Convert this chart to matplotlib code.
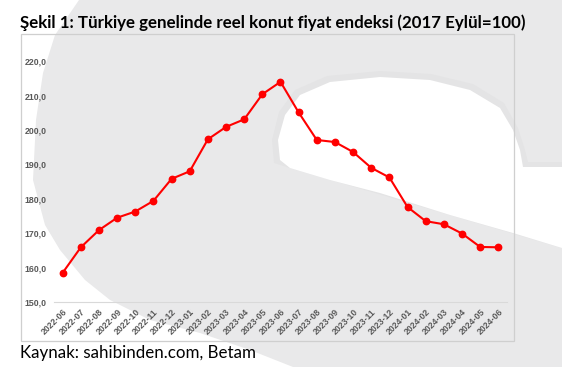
import matplotlib
matplotlib.use('Agg')
import matplotlib.pyplot as plt
from matplotlib.patches import Polygon, Rectangle

months = ['2022-06', '2022-07', '2022-08', '2022-09', '2022-10', '2022-11', '2022-12',
          '2023-01', '2023-02', '2023-03', '2023-04', '2023-05', '2023-06', '2023-07',
          '2023-08', '2023-09', '2023-10', '2023-11', '2023-12', '2024-01', '2024-02',
          '2024-03', '2024-04', '2024-05', '2024-06']
index = [158.5, 165.9, 170.9, 174.5, 176.3, 179.4, 185.8, 188.0, 197.3, 200.9,
         203.1, 210.4, 214.0, 205.1, 197.1, 196.5, 193.6, 189.0, 186.2, 177.6,
         173.5, 172.6, 169.9, 166.0, 165.9]
yticks = [150, 160, 170, 180, 190, 200, 210, 220]

W, H = 562, 367
fig = plt.figure(figsize=(W / 100, H / 100), dpi=100)
fig.patch.set_facecolor('white')

# background watermark, drawn in pixel coordinates
bg = fig.add_axes([0, 0, 1, 1], zorder=-1)
bg.set_xlim(0, W)
bg.set_ylim(H, 0)
bg.axis('off')
bg.add_patch(Rectangle((0, 0), W, H, color='#e9e9ea', lw=0))
left_white = [(0, 0), (79, 0), (55, 35), (43, 73), (36, 120), (33, 180), (45, 225),
              (60, 250), (85, 280), (110, 300), (150, 320), (200, 333), (250, 350),
              (293, 367), (0, 367)]
bg.add_patch(Polygon(left_white, closed=True, color='white', lw=0))
blob_shadow = [(274, 163), (272, 140), (279, 112), (295, 90), (327, 76), (380, 71),
               (431, 74), (473, 84), (504, 103), (518, 128), (525, 150), (528, 162),
               (562, 162), (562, 248), (290, 168)]
bg.add_patch(Polygon(blob_shadow, closed=True, color='#e4e4e5', lw=0))
blob = [(290, 168), (280, 160), (278, 140), (285, 115), (300, 95), (330, 82), (380, 77),
        (430, 80), (470, 90), (500, 108), (513, 130), (520, 150), (523, 167), (562, 167),
        (562, 248), (513, 233), (450, 215), (380, 193), (330, 180)]
bg.add_patch(Polygon(blob, closed=True, color='white', lw=0))
bg.add_patch(Rectangle((20.5, 33.5), 493.5, 307.5, fill=False, ec='#cfcfcf', lw=0.9))

ax = fig.add_axes([53.6 / W, 1 - 302 / H, (507.4 - 53.6) / W, (302 - 61.2) / H])
ax.patch.set_alpha(0)
x = range(len(months))
ax.plot(x, index, color='#ff0000', lw=1.5, marker='o', ms=4.6, zorder=3)

ax.set_xlim(-0.5, len(months) - 0.5)
ax.set_ylim(150, 220)
ax.set_yticks(yticks)
ax.set_yticklabels([('%.1f' % v).replace('.', ',') for v in yticks])
ax.set_xticks(list(x))
ax.set_xticklabels(months, rotation=45, ha='right', rotation_mode='anchor')
for s in ['top', 'right', 'left']:
    ax.spines[s].set_visible(False)
ax.spines['bottom'].set_color('#d9d9d9')
ax.spines['bottom'].set_linewidth(0.8)
ax.tick_params(axis='both', length=0, labelsize=6.3, labelcolor='#595959')
ax.tick_params(axis='y', pad=5)
ax.tick_params(axis='x', pad=4)
for lab in ax.get_xticklabels() + ax.get_yticklabels():
    lab.set_fontfamily('Liberation Sans')
    lab.set_fontweight('bold')

fig.text(20 / W, 1 - 28 / H, 'Şekil 1: Türkiye genelinde reel konut fiyat endeksi (2017 Eylül=100)',
         fontsize=12.2, fontweight='bold', family='Lato', va='baseline', ha='left', color='black')
fig.text(20 / W, 1 - 358 / H, 'Kaynak: sahibinden.com, Betam',
         fontsize=12.2, family='Lato', va='baseline', ha='left', color='black')

fig.savefig('out.png', dpi=100)
